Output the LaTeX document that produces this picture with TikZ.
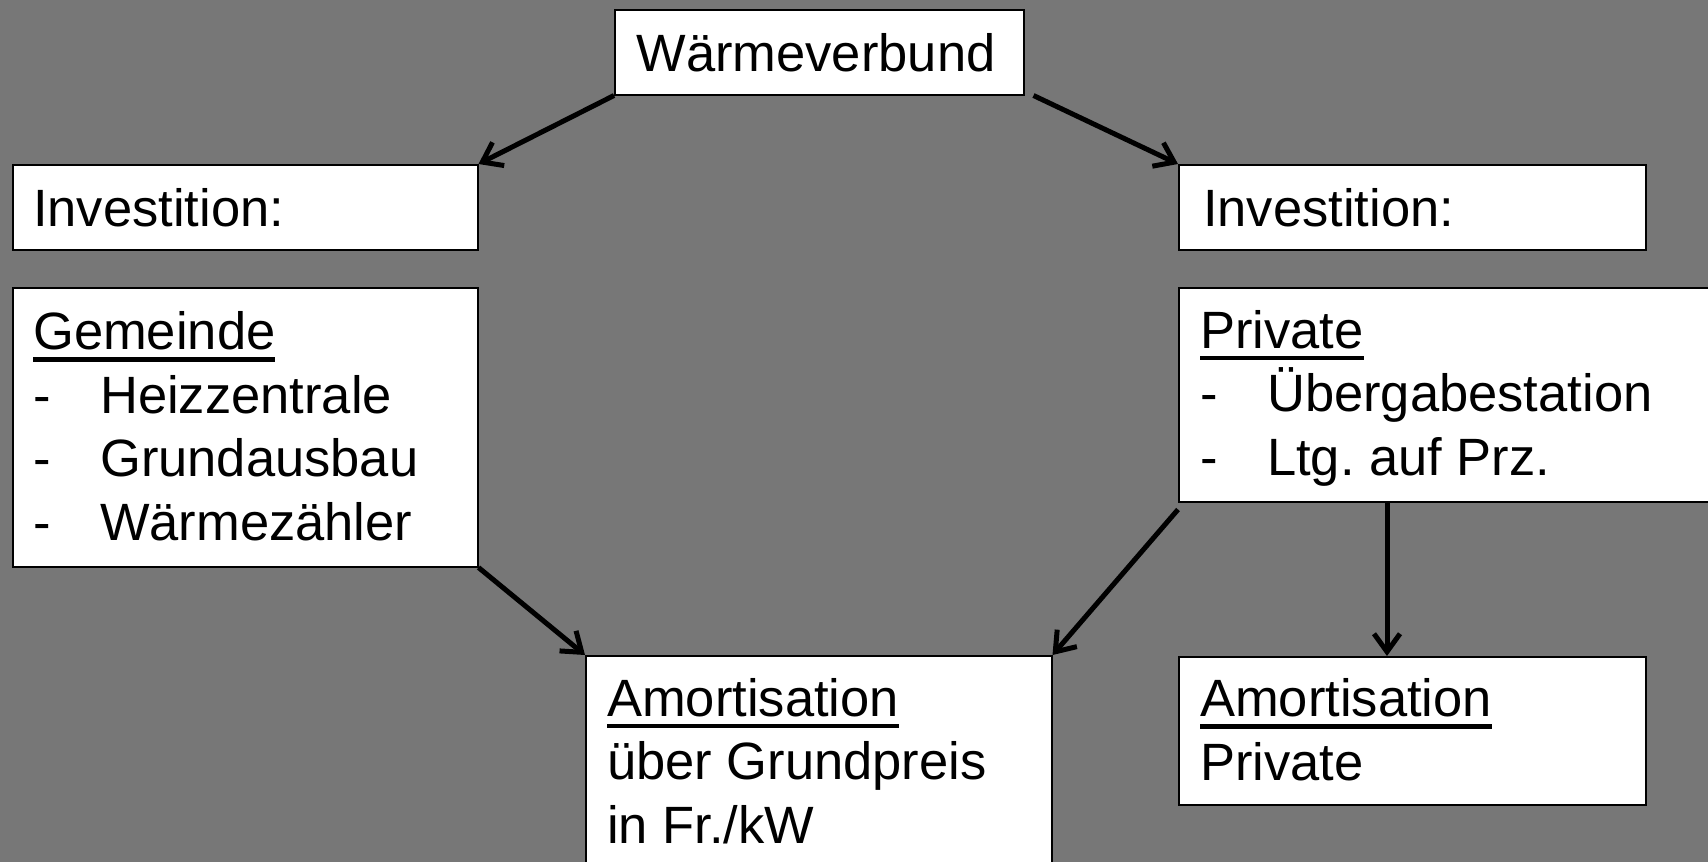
\documentclass[tikz,border=0pt]{standalone}
\usepackage{fontspec}
\setmainfont{Liberation Sans}
\usetikzlibrary{arrows.meta}
\frenchspacing
\newcommand\myul[1]{\setbox0\hbox{#1}\rlap{\rule[-12pt]{\wd0}{4.5pt}}\box0}
\newcommand\itm[1]{\makebox[67pt][l]{-}#1}
\definecolor{bg}{RGB}{119,119,119}
\begin{document}
\begin{tikzpicture}[x=1pt,y=-1pt,
  box/.style={draw=black, line width=1.5pt, fill=white, inner sep=0pt, anchor=north west},
  txt/.style={inner sep=0pt, anchor=base west, align=left, font=\fontsize{52.5}{63.5}\selectfont},
  arr/.style={line width=5pt, -{Straight Barb[length=18pt,width=26pt]}}]
\fill[bg] (0,0) rectangle (1708,862);
\useasboundingbox (0,0) rectangle (1708,862);
\node[box, minimum width=409pt, minimum height=85pt] (wv) at (614,9) {};
\node[box, minimum width=465pt, minimum height=85pt] (inv1) at (12,164) {};
\node[box, minimum width=465pt, minimum height=279pt] (gem) at (12,287) {};
\node[box, minimum width=467pt, minimum height=85pt] (inv2) at (1178,164) {};
\node[box, minimum width=540pt, minimum height=214pt] (priv) at (1178,287) {};
\node[box, minimum width=466pt, minimum height=220pt] (am1) at (585,655) {};
\node[box, minimum width=467pt, minimum height=148pt] (am2) at (1178,656) {};
\node[txt, anchor=base] (twv) at (816,71) {Wärmeverbund};
\node[txt] (tinv1) at (33,226) {Investition:};
\node[txt] (tinv2) at (1203,226) {Investition:};
\node[txt] (tgem) at (33,540) {\myul{Gemeinde}\\\itm{Heizzentrale}\\\itm{Grundausbau}\\\itm{Wärmezähler}};
\node[txt] (tpriv) at (1200,475) {\myul{Private}\\\itm{Übergabestation}\\\itm{Ltg. auf Prz.}};
\node[txt] (tam1) at (607,843) {\myul{Amortisation}\\über Grundpreis\\in Fr./kW};
\node[txt] (tam2) at (1200,780) {\myul{Amortisation}\\Private};
\draw[arr] (wv.south west) -- (inv1.north east);
\draw[arr] ([xshift=9pt]wv.south east) -- (inv2.north west);
\draw[arr] (gem.south east) -- (am1.north west);
\draw[arr] ([yshift=-7pt]priv.south west) -- (am1.north east);
\draw[arr] ([xshift=209pt]priv.south west) -- ([xshift=209pt]am2.north west);
\end{tikzpicture}
\end{document}
